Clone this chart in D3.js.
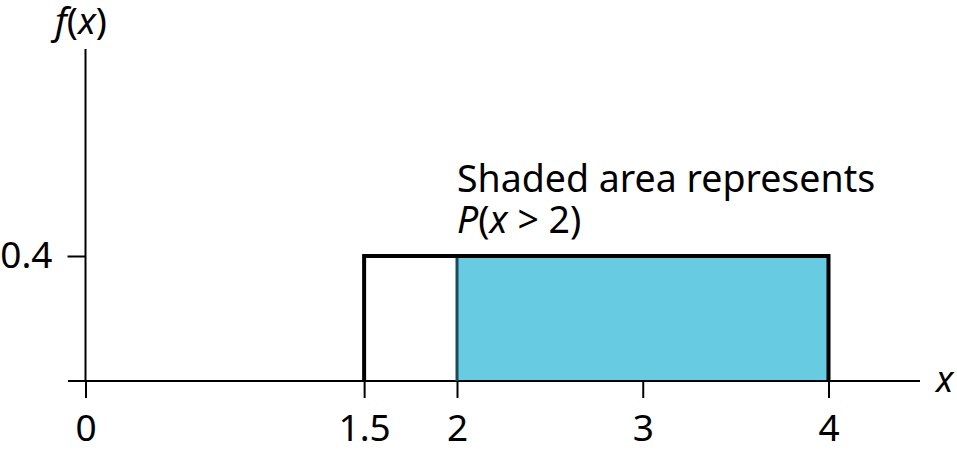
<!DOCTYPE html>
<html>
<head>
<meta charset="utf-8">
<script src="https://cdn.jsdelivr.net/npm/d3@7"></script>
<style>
  body { margin: 0; background: #fff; }
  svg { display: block; font-family: "Noto Sans", "Open Sans", sans-serif; }
  .tick line { stroke: #000; stroke-width: 2; }
</style>
</head>
<body>
<div id="chart"></div>
<script>
// uniform distribution on [1.5, 4], shaded x > 2
const xTicks = [0, 1.5, 2, 3, 4];
const xTickLabels = ["0", "1.5", "2", "3", "4"];
const yTicks = [0.4];
const yTickLabels = ["0.4"];
const lower = 1.5;
const upper = 4;
const density = 0.4;
const shadeFrom = 2;

const width = 957, height = 456;
const fontFamily = "'Noto Sans', 'Open Sans', sans-serif";

const svg = d3.select("#chart").append("svg")
    .attr("width", width)
    .attr("height", height);

const x = d3.scaleLinear().domain([0, 4]).range([85.5, 828.5]);
const y = d3.scaleLinear().domain([0, 0.4]).range([381, 256]);

// shaded region
svg.append("rect")
    .attr("x", x(shadeFrom))
    .attr("y", y(density))
    .attr("width", x(upper) - x(shadeFrom))
    .attr("height", y(0) - y(density))
    .attr("fill", "#67cbe2");

// axes lines
svg.append("line")
    .attr("x1", 68).attr("x2", 920)
    .attr("y1", y(0)).attr("y2", y(0))
    .attr("stroke", "#000").attr("stroke-width", 2);

svg.append("line")
    .attr("x1", x(0)).attr("x2", x(0))
    .attr("y1", 49).attr("y2", y(0))
    .attr("stroke", "#000").attr("stroke-width", 2);

// x axis ticks
const xAxis = d3.axisBottom(x)
    .tickValues(xTicks)
    .tickFormat((d, i) => xTickLabels[i])
    .tickSize(17)
    .tickPadding(0);

const gx = svg.append("g")
    .attr("transform", "translate(0," + y(0) + ")")
    .call(xAxis);
gx.select(".domain").remove();
gx.selectAll(".tick text")
    .attr("fill", "#000")
    .attr("font-family", fontFamily)
    .attr("font-size", 37)
    .attr("y", 60)
    .attr("dy", null);

// y axis ticks
const yAxis = d3.axisLeft(y)
    .tickValues(yTicks)
    .tickFormat((d, i) => yTickLabels[i])
    .tickSize(18)
    .tickPadding(16);

const gy = svg.append("g")
    .attr("transform", "translate(" + x(0) + ",0)")
    .call(yAxis);
gy.select(".domain").remove();
gy.selectAll(".tick text")
    .attr("fill", "#000")
    .attr("font-family", fontFamily)
    .attr("font-size", 37)
    .attr("x", -33)
    .attr("dy", "0.3em");

// divider at x = 2
svg.append("line")
    .attr("x1", x(shadeFrom)).attr("x2", x(shadeFrom))
    .attr("y1", y(density)).attr("y2", y(0))
    .attr("stroke", "#1d4a58").attr("stroke-width", 3);

// density outline
const outline = d3.line().x(d => x(d[0])).y(d => y(d[1]));
svg.append("path")
    .attr("d", outline([[lower, 0], [lower, density], [upper, density], [upper, 0]]))
    .attr("fill", "none")
    .attr("stroke", "#000")
    .attr("stroke-width", 4)
    .attr("stroke-linejoin", "miter");

// labels
const fx = svg.append("text")
    .attr("x", 55).attr("y", 34)
    .attr("font-size", 37);
fx.append("tspan").attr("font-style", "italic").text("f");
fx.append("tspan").text("(");
fx.append("tspan").attr("font-style", "italic").text("x");
fx.append("tspan").text(")");

svg.append("text")
    .attr("x", 936).attr("y", 392)
    .attr("font-size", 36)
    .attr("font-style", "italic")
    .text("x");

svg.append("text")
    .attr("x", 457).attr("y", 192)
    .attr("font-size", 37.5)
    .text("Shaded area represents");

const p = svg.append("text")
    .attr("x", 457).attr("y", 233)
    .attr("font-size", 37.5);
p.append("tspan").attr("font-style", "italic").text("P");
p.append("tspan").text("(");
p.append("tspan").attr("font-style", "italic").text("x");
p.append("tspan").text(" > 2)");
</script>
</body>
</html>
